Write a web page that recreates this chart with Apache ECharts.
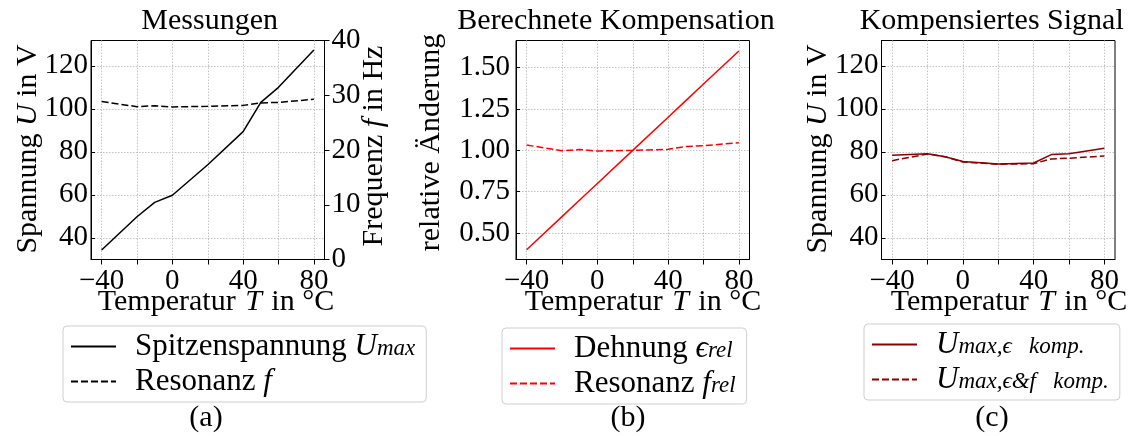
<!DOCTYPE html>
<html>
<head>
<meta charset="utf-8">
<script src="https://cdn.jsdelivr.net/npm/echarts@6/dist/echarts.min.js"></script>
<style>
  html, body { margin: 0; padding: 0; background: #ffffff; }
  #chart { width: 1142px; height: 436px; }
</style>
</head>
<body>
<div id="chart"></div>
<script>
// Measurement temperatures in °C
const temps = [-40, -20, -10, 0, 20, 40, 50, 60, 80];
// (a) peak voltage in V and resonance frequency in Hz
const uMax = [34.3, 49.8, 56.5, 59.8, 74.0, 89.4, 103.0, 110.0, 127.4];
const fRes = [28.84, 27.92, 28.08, 27.87, 27.98, 28.15, 28.60, 28.70, 29.25];
// (b) relative strain and relative resonance frequency
const epsRel = [0.40, 0.60, 0.70, 0.80, 1.00, 1.20, 1.30, 1.40, 1.60];
const fRel = [1.032, 0.998, 1.005, 0.996, 1.000, 1.006, 1.023, 1.028, 1.046];
// (c) compensated peak voltage in V
const uEpsComp = [78.4, 79.1, 77.7, 75.5, 74.3, 74.8, 78.7, 79.1, 81.7];
const uEpsFComp = [75.9, 79.0, 77.7, 75.3, 74.2, 74.5, 76.7, 77.0, 78.1];

// Tick positions and labels
const xTicks = [-40, -20, 0, 20, 40, 60, 80];
const xLabels = [-40, 0, 40, 80];
const uTicks = [40, 60, 80, 100, 120];
const fTicks = [0, 10, 20, 30, 40];
const relTicks = [0.5, 0.75, 1.0, 1.25, 1.5];

const FONT = 'Liberation Serif';
const TICK_SIZE = 29;
const NAME_SIZE = 30;
const LEG_SIZE = 31;
const SUB_SIZE = 23;
const LEG_LINE = 28;

const pairs = (ys) => temps.map((t, i) => [t, ys[i]]);
const minus = (v) => (v < 0 ? '\u2212' + Math.abs(v) : String(v));

const gridBox = { top: 40.5, height: 219, width: 233.5 };
const grids = [
  Object.assign({ left: 91 }, gridBox),
  Object.assign({ left: 516 }, gridBox),
  Object.assign({ left: 881.5 }, gridBox)
].map(g => Object.assign(g, { show: true, borderColor: '#000', borderWidth: 1, backgroundColor: '#fff', containLabel: false }));

const gridLine = { show: true, lineStyle: { color: '#c4c4c4', width: 1, type: [1.5, 1.5] } };
const tickStyle = { show: true, length: 5, lineStyle: { color: '#000', width: 1 } };
const labelStyle = { fontFamily: FONT, fontSize: TICK_SIZE, color: '#000' };

function xAxisFor(i) {
  return {
    type: 'value', gridIndex: i, min: -46, max: 86,
    axisLine: { show: true, onZero: false, lineStyle: { color: '#000', width: 1 } },
    axisTick: Object.assign({ customValues: xTicks }, tickStyle),
    axisLabel: Object.assign({
      customValues: xLabels, margin: 7,
      formatter: (v) => (xLabels.indexOf(v) >= 0 ? minus(v) : '')
    }, labelStyle),
    splitLine: gridLine
  };
}

function yAxisFor(i, min, max, ticks, fmt, margin, extra) {
  return Object.assign({
    type: 'value', gridIndex: i, min: min, max: max,
    axisLine: { show: true, onZero: false, lineStyle: { color: '#000', width: 1 } },
    axisTick: Object.assign({ customValues: ticks }, tickStyle, { inside: true, length: 4 }),
    axisLabel: Object.assign({
      customValues: ticks, margin: margin,
      formatter: (v) => (ticks.indexOf(v) >= 0 ? fmt(v) : '')
    }, labelStyle),
    splitLine: gridLine
  }, extra || {});
}

const yAxes = [
  yAxisFor(0, 29.9, 131.8, uTicks, String, 3),
  yAxisFor(0, 0, 40, fTicks, String, 7, {
    position: 'right', interval: 10, splitLine: { show: false },
    axisTick: Object.assign({ customValues: fTicks }, tickStyle)
  }),
  yAxisFor(1, 0.341, 1.663, relTicks, (v) => v.toFixed(2), 6),
  yAxisFor(2, 29.9, 131.8, uTicks, String, 3)
];

const BLACK = '#000000', RED = '#ff0000', DARKRED = '#8b0000';
const DASH = [7, 3];

function line(name, data, xi, yi, color, dashed) {
  return {
    type: 'line', name: name, data: pairs(data), xAxisIndex: xi, yAxisIndex: yi,
    symbol: 'none', showSymbol: false, smooth: false,
    lineStyle: { color: color, width: 1.5, type: dashed ? DASH : 'solid' },
    itemStyle: { color: color }
  };
}

const series = [
  line('uMax', uMax, 0, 0, BLACK, false),
  line('fRes', fRes, 0, 1, BLACK, true),
  line('epsRel', epsRel, 1, 2, RED, false),
  line('fRel', fRel, 1, 2, RED, true),
  line('uEpsComp', uEpsComp, 2, 3, DARKRED, false),
  line('uEpsFComp', uEpsFComp, 2, 3, DARKRED, true)
];

// Legend labels with italic symbols and subscripts
const legendText = {
  uMax: 'Spitzenspannung {i|U}{s|max}',
  fRes: 'Resonanz {i|f}',
  epsRel: 'Dehnung {i|\u03F5}{s|rel}',
  fRel: 'Resonanz {i|f}{s|rel}',
  uEpsComp: '{i|U}{s|max,\u03F5   komp.}',
  uEpsFComp: '{i|U}{s|max,\u03F5&f   komp.}'
};
const legendRich = {
  i: { fontFamily: FONT, fontSize: LEG_SIZE, fontStyle: 'italic', color: '#000', lineHeight: LEG_LINE },
  s: { fontFamily: FONT, fontSize: SUB_SIZE, fontStyle: 'italic', color: '#000', lineHeight: 12, verticalAlign: 'bottom' }
};
function legendFor(left, top, names) {
  return {
    left: left, top: top, orient: 'vertical', data: names,
    backgroundColor: '#fff', borderColor: '#cfcfcf', borderWidth: 1, borderRadius: 4,
    padding: [5, 11, 5, 7], itemWidth: 45, itemHeight: 14, itemGap: 4,
    itemStyle: { opacity: 0 },
    formatter: (n) => legendText[n],
    textStyle: { fontFamily: FONT, fontSize: LEG_SIZE, color: '#000', lineHeight: LEG_LINE, padding: [0, 0, 0, 14], rich: legendRich }
  };
}

const nameRich = {
  i: { fontFamily: FONT, fontSize: NAME_SIZE, fontStyle: 'italic', fill: '#000' },
  t: { fontFamily: FONT, fontSize: NAME_SIZE, fontStyle: 'italic', fill: '#000', padding: [0, 2, 0, 2] }
};
function label(text, x, y, size, rot) {
  return {
    type: 'text', x: x, y: y, rotation: rot || 0, silent: true,
    style: {
      text: text, fontFamily: FONT, fontSize: size, fill: '#000',
      align: 'center', verticalAlign: 'middle', rich: nameRich
    }
  };
}
const ROT = Math.PI / 2;
const X_NAME = 'Temperatur {t|T} in \u00B0C';

const graphic = [
  label('Messungen', 209.7, 21, NAME_SIZE),
  label('Berechnete Kompensation', 616, 21, NAME_SIZE),
  label('Kompensiertes Signal', 991.7, 21, NAME_SIZE),
  label(X_NAME, 216, 302.5, NAME_SIZE),
  label(X_NAME, 643, 302.5, NAME_SIZE),
  label(X_NAME, 1009, 302.5, NAME_SIZE),
  label('Spannung {i|U} in V', 28.3, 149, NAME_SIZE, ROT),
  label('Frequenz {i|f} in Hz', 374, 146, NAME_SIZE, ROT),
  label('relative \u00C4nderung', 431, 142.5, NAME_SIZE, ROT),
  label('Spannung {i|U} in V', 818.3, 149, NAME_SIZE, ROT),
  label('(a)', 206, 418, NAME_SIZE),
  label('(b)', 628, 418, NAME_SIZE),
  label('(c)', 992, 418, NAME_SIZE)
];

function draw() {
  const chart = echarts.init(document.getElementById('chart'), null, { renderer: 'canvas' });
  chart.setOption({
    animation: false,
    backgroundColor: '#ffffff',
    grid: grids,
    xAxis: [xAxisFor(0), xAxisFor(1), xAxisFor(2)],
    yAxis: yAxes,
    series: series,
    legend: [
      legendFor(63, 326, ['uMax', 'fRes']),
      legendFor(502, 328, ['epsRel', 'fRel']),
      legendFor(864, 324, ['uEpsComp', 'uEpsFComp'])
    ],
    graphic: graphic
  });
}

// Make sure the serif faces are available before the first text layout
const probe = document.createElement('canvas').getContext('2d');
['normal', 'italic'].forEach(st => {
  probe.font = st + ' 30px ' + FONT;
  probe.measureText('Messungen 0123456789');
});
const loads = ['30px', 'italic 30px'].map(f =>
  document.fonts ? document.fonts.load(f + ' "' + FONT + '"') : Promise.resolve());
let drawn = false;
const once = () => { if (!drawn) { drawn = true; draw(); } };
Promise.all(loads).then(once, once);
setTimeout(once, 400);
</script>
</body>
</html>
